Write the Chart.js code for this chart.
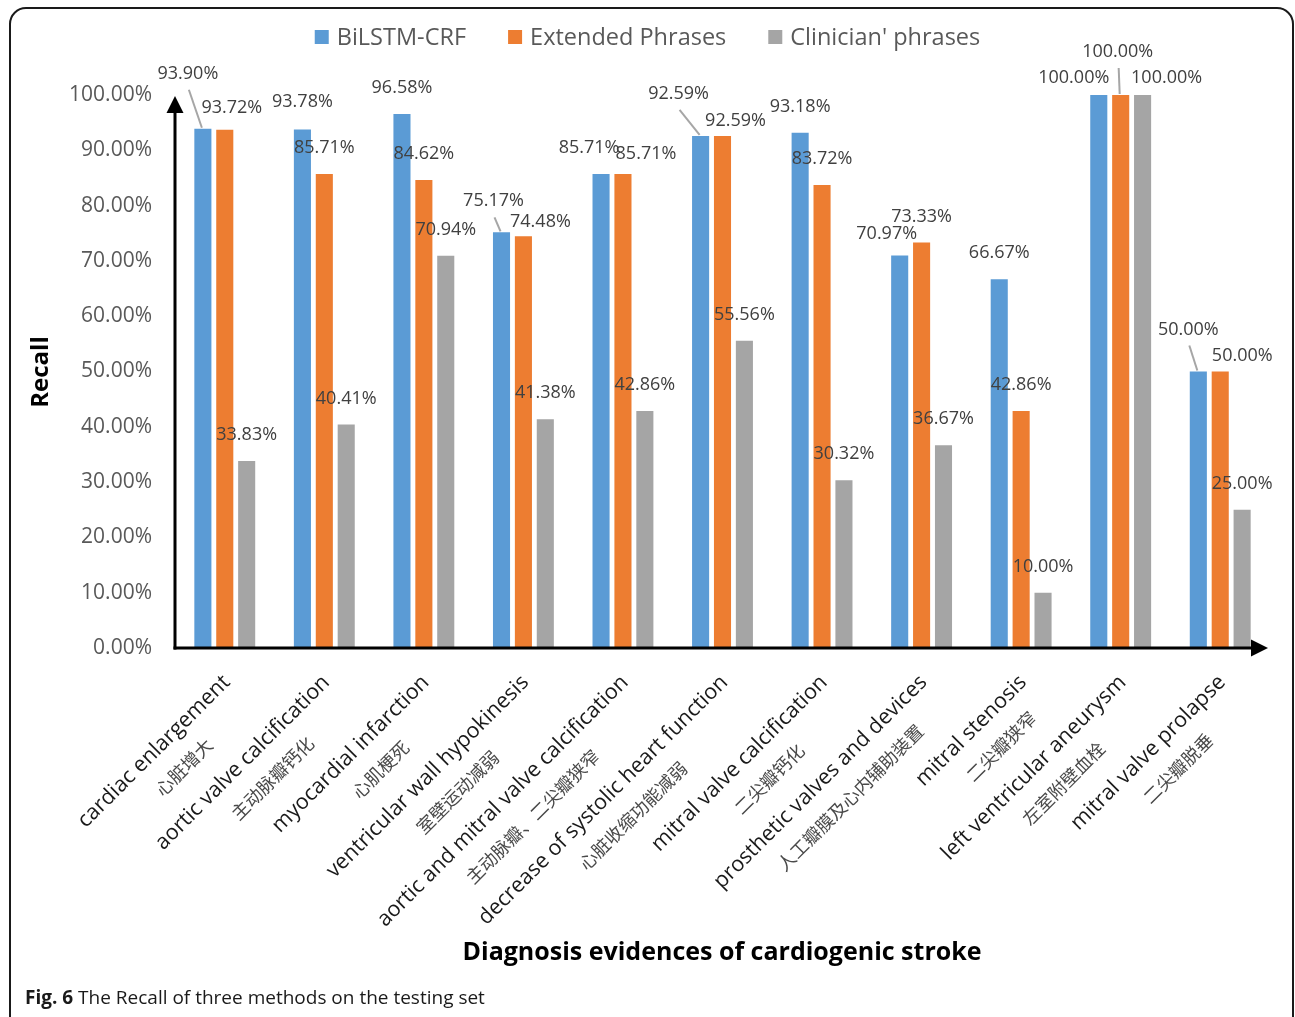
<!DOCTYPE html>
<html>
<head>
<meta charset="utf-8">
<script src="https://cdn.jsdelivr.net/npm/chart.js@4.4.1/dist/chart.umd.min.js"></script>
<style>
html,body{margin:0;padding:0;background:#ffffff;}
canvas{display:block;}
</style>
</head>
<body>
<canvas id="c" width="1295" height="1017"></canvas>
<script>
// ---------------- data ----------------
const categoriesEn = [
  'cardiac enlargement',
  'aortic valve calcification',
  'myocardial infarction',
  'ventricular wall hypokinesis',
  'aortic and mitral valve calcification',
  'decrease of systolic heart function',
  'mitral valve calcification',
  'prosthetic valves and devices',
  'mitral stenosis',
  'left ventricular aneurysm',
  'mitral valve prolapse'
];
const categoriesZh = [
  '心脏增大',
  '主动脉瓣钙化',
  '心肌梗死',
  '室壁运动减弱',
  '主动脉瓣、二尖瓣狭窄',
  '心脏收缩功能减弱',
  '二尖瓣钙化',
  '人工瓣膜及心内辅助装置',
  '二尖瓣狭窄',
  '左室附壁血栓',
  '二尖瓣脱垂'
];
const seriesNames = ['BiLSTM-CRF', 'Extended Phrases', "Clinician' phrases"];
const bilstmCrf        = [93.90, 93.78, 96.58, 75.17, 85.71, 92.59, 93.18, 70.97, 66.67, 100.00, 50.00];
const extendedPhrases  = [93.72, 85.71, 84.62, 74.48, 85.71, 92.59, 83.72, 73.33, 42.86, 100.00, 50.00];
const clinicianPhrases = [33.83, 40.41, 70.94, 41.38, 42.86, 55.56, 30.32, 36.67, 10.00, 100.00, 25.00];
const yAxisMin = 0, yAxisMax = 100, yAxisStep = 10;
const yTitle = 'Recall';
const xTitle = 'Diagnosis evidences of cardiogenic stroke';
const captionBold = 'Fig. 6';
const captionText = ' The Recall of three methods on the testing set';

// ---------------- styles ----------------
const seriesColors = ['#5B9BD5', '#ED7D31', '#A5A5A5'];
// data label nudges [dx, dy, leaderLine] per series / category (style only)
const labelNudge = [
  [[-15,-29,1],[0,-2,0],[0,0,0],[-8,-5,1],[-12,0,0],[-22,-16,1],[0,0,0],[-13,4,0],[0,0,0],[-25,9,0],[-10,-16,1]],
  [[7,4,0],[0,0,0],[0,0,0],[17,12,0],[23,6,0],[13,11,0],[0,0,0],[0,0,0],[0,0,0],[-3,-17,1],[22,10,0]],
  [[0,0,0],[0,0,0],[0,0,0],[0,0,0],[0,0,0],[0,0,0],[0,0,0],[0,0,0],[0,0,0],[24,9,0],[0,0,0]]
];
const FONT = '"Open Sans", "Noto Sans", "DejaVu Sans", sans-serif';
const CJK = '"Noto Sans CJK SC", "Noto Sans CJK JP", sans-serif';

const decorPlugin = {
  id: 'decor',
  beforeDraw(chart) {
    const ctx = chart.ctx;
    ctx.save();
    ctx.fillStyle = '#ffffff';
    ctx.fillRect(0, 0, chart.width, chart.height);
    ctx.restore();
  },
  afterDatasetsDraw(chart) {
    const ctx = chart.ctx;
    const xs = chart.scales.x, ys = chart.scales.y;
    const left = xs.left, right = xs.right, bottom = ys.getPixelForValue(yAxisMin), top = ys.getPixelForValue(yAxisMax);
    ctx.save();
    // axes with arrows
    ctx.strokeStyle = '#000'; ctx.fillStyle = '#000'; ctx.lineWidth = 3;
    ctx.beginPath(); ctx.moveTo(left, bottom + 1.5); ctx.lineTo(left, top + 12); ctx.stroke();
    ctx.beginPath(); ctx.moveTo(left, top + 1); ctx.lineTo(left - 8.5, top + 18); ctx.lineTo(left + 8.5, top + 18); ctx.closePath(); ctx.fill();
    ctx.beginPath(); ctx.moveTo(left - 1.5, bottom); ctx.lineTo(right - 12, bottom); ctx.stroke();
    ctx.beginPath(); ctx.moveTo(right - 2, bottom); ctx.lineTo(right - 19, bottom - 8.5); ctx.lineTo(right - 19, bottom + 8.5); ctx.closePath(); ctx.fill();

    // data labels
    ctx.font = '18px ' + FONT;
    ctx.textAlign = 'center'; ctx.textBaseline = 'middle';
    chart.data.datasets.forEach((ds, si) => {
      const meta = chart.getDatasetMeta(si);
      meta.data.forEach((bar, i) => {
        const n = labelNudge[si][i];
        const lx = bar.x + n[0], ly = bar.y - 26 + n[1];
        if (n[2]) {
          ctx.strokeStyle = '#A6A6A6'; ctx.lineWidth = 2;
          ctx.beginPath(); ctx.moveTo(bar.x - 1, bar.y - 1); ctx.lineTo(lx + (bar.x > lx ? 1 : -1), ly + 16); ctx.stroke();
        }
        ctx.fillStyle = '#404040';
        ctx.fillText(ds.data[i].toFixed(2) + '%', lx, ly);
      });
    });
    ctx.restore();
  },
  afterDraw(chart) {
    const ctx = chart.ctx;
    const xs = chart.scales.x;
    ctx.save();
    // category labels (two lines, rotated)
    categoriesEn.forEach((en, i) => {
      const cx = xs.getPixelForValue(i);
      ctx.save();
      ctx.translate(cx + 2, 679);
      ctx.rotate(-Math.PI / 4);
      ctx.font = '21.5px ' + FONT;
      ctx.fillStyle = '#1a1a1a';
      ctx.textAlign = 'right'; ctx.textBaseline = 'middle';
      const w = ctx.measureText(en).width;
      ctx.fillText(en, 0, 0);
      ctx.font = '18px ' + CJK;
      ctx.fillStyle = '#4a4a4a';
      ctx.textAlign = 'center';
      ctx.fillText(categoriesZh[i], -w / 2 + 10, 32);
      ctx.restore();
    });

    // legend
    ctx.font = '23.5px ' + FONT;
    ctx.textBaseline = 'middle'; ctx.textAlign = 'left';
    const box = 14, gapBT = 8, gapItems = 42;
    const widths = seriesNames.map(s => ctx.measureText(s).width);
    const total = widths.reduce((a, w) => a + box + gapBT + w, 0) + gapItems * (seriesNames.length - 1);
    let lx = chart.width / 2 - total / 2;
    const ly = 37;
    seriesNames.forEach((s, k) => {
      ctx.fillStyle = seriesColors[k];
      ctx.fillRect(lx, ly - box / 2, box, box);
      ctx.fillStyle = '#595959';
      ctx.fillText(s, lx + box + gapBT, ly + 1);
      lx += box + gapBT + widths[k] + gapItems;
    });

    // axis titles
    ctx.fillStyle = '#000';
    ctx.font = 'bold 24px ' + FONT;
    ctx.textAlign = 'center'; ctx.textBaseline = 'middle';
    ctx.save(); ctx.translate(41, 372); ctx.rotate(-Math.PI / 2); ctx.fillText(yTitle, 0, 0); ctx.restore();
    ctx.font = 'bold 25px ' + FONT;
    ctx.fillText(xTitle, 722, 953);

    // caption
    ctx.textAlign = 'left'; ctx.textBaseline = 'alphabetic';
    ctx.font = 'bold 19px ' + FONT;
    ctx.fillStyle = '#1a1a1a';
    ctx.fillText(captionBold, 25, 1004);
    const bw = ctx.measureText(captionBold).width;
    ctx.font = '19px ' + FONT;
    ctx.fillText(captionText, 25 + bw, 1004);

    // frame
    ctx.strokeStyle = '#1a1a1a'; ctx.lineWidth = 2;
    ctx.beginPath();
    ctx.roundRect(10, 8, 1283, 1030, 16);
    ctx.stroke();
    ctx.restore();
  }
};

const chart = new Chart(document.getElementById('c'), {
  type: 'bar',
  data: {
    labels: categoriesEn,
    datasets: [
      { label: seriesNames[0], data: bilstmCrf, backgroundColor: seriesColors[0] },
      { label: seriesNames[1], data: extendedPhrases, backgroundColor: seriesColors[1] },
      { label: seriesNames[2], data: clinicianPhrases, backgroundColor: seriesColors[2] }
    ]
  },
  options: {
    responsive: false,
    animation: false,
    devicePixelRatio: 1,
    layout: { padding: { top: 95, right: 25, left: 0, bottom: 0 } },
    datasets: { bar: { barPercentage: 0.78, categoryPercentage: 0.66, borderWidth: 0 } },
    plugins: { legend: { display: false }, tooltip: { enabled: false } },
    scales: {
      x: {
        type: 'category',
        offset: true,
        grid: { display: false, drawTicks: false },
        border: { display: false },
        ticks: { display: false },
        afterFit: s => { s.height = 369; }
      },
      y: {
        min: yAxisMin, max: yAxisMax,
        grid: { display: false, drawTicks: false },
        border: { display: false },
        ticks: {
          stepSize: yAxisStep,
          padding: 23,
          color: '#595959',
          font: { family: FONT, size: 21 },
          callback: v => Number(v).toFixed(2) + '%'
        },
        afterFit: s => { s.width = 175; }
      }
    }
  },
  plugins: [decorPlugin]
});
</script>
</body>
</html>
